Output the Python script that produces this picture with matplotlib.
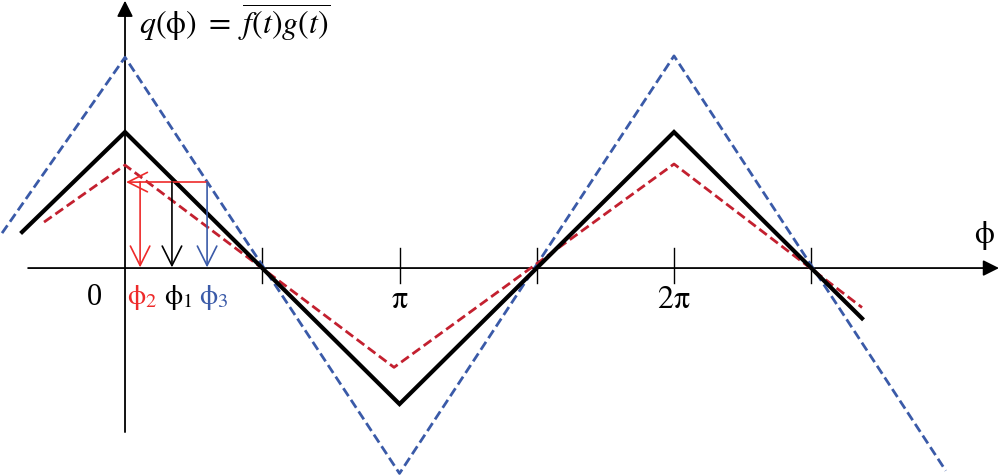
import matplotlib.pyplot as plt

plt.rcParams['font.family'] = ['Liberation Serif', 'DejaVu Serif']
plt.rcParams['mathtext.fontset'] = 'stix'

# 相位单位为 π，幅值以黑线峰值为 1
black_x = [-0.375, 0, 1, 2, 2.685]
black_y = [0.265, 1.0, -1.0, 1.0, -0.37]
blue_x = [-0.448, 0, 1, 2, 2.99]
blue_y = [0.257, 1.55, -1.51, 1.56, -1.49]
red_x = [-0.295, 0, 0.98, 2, 2.685]
red_y = [0.338, 0.757, -0.73, 0.765, -0.29]

tick_pos = [0.5, 1, 1.5, 2, 2.5]
tick_labels = [(1, r'$\mathrm{\pi}$'), (2, r'$2\mathrm{\pi}$')]

level = 0.632                 # 水平读数线
phi_pos = [0.055, 0.171, 0.299]   # φ2, φ1, φ3
phi_names = [r'$\mathrm{\phi}_2$', r'$\mathrm{\phi}_1$', r'$\mathrm{\phi}_3$']
phi_colors = ['#ee2a2a', 'black', '#3a5aa8']

BLUE = '#3a5aa8'
RED = '#c3202f'

fig = plt.figure(figsize=(10, 4.76), dpi=100)
ax = fig.add_axes([0, 0, 1, 1])
ax.set_xlim(-0.4554, 3.1876)
ax.set_ylim(-1.529, 1.971)
ax.axis('off')

# 坐标轴（带箭头）
ax.annotate('', xy=(3.184, 0), xytext=(-0.353, 0), annotation_clip=False,
            arrowprops=dict(arrowstyle='-|>', color='black', lw=1.3,
                            mutation_scale=24, shrinkA=0, shrinkB=0))
ax.annotate('', xy=(0, 1.966), xytext=(0, -1.206), annotation_clip=False,
            arrowprops=dict(arrowstyle='-|>', color='black', lw=1.3,
                            mutation_scale=24, shrinkA=0, shrinkB=0))
for t in tick_pos:
    ax.plot([t, t], [-0.11, 0.15], color='black', lw=1.0)

# 三条曲线
ax.plot(blue_x, blue_y, color=BLUE, lw=2.0, dashes=(3.4, 1.6), zorder=3)
ax.plot(red_x, red_y, color=RED, lw=2.0, dashes=(3.4, 1.6), zorder=3)
ax.plot(black_x, black_y, color='black', lw=3.0, zorder=4,
        solid_joinstyle='miter')

# 水平线与向下箭头
thin = dict(arrowstyle='->, head_length=0.5, head_width=0.25', lw=1.2,
            mutation_scale=28, shrinkA=0, shrinkB=0)
ax.plot([phi_pos[0], phi_pos[2]], [level, level], color='#ee2a2a', lw=1.2, zorder=5)
ax.annotate('', xy=(0.004, level), xytext=(phi_pos[0], level),
            arrowprops=dict(color='#ee2a2a', **thin), zorder=5)
for xp, c in zip(phi_pos, phi_colors):
    ax.annotate('', xy=(xp, 0.005), xytext=(xp, level),
                arrowprops=dict(color=c, **thin), zorder=5)

# 文字
ax.text(-0.11, -0.22, '0', fontsize=22, ha='center', va='center')
for xp, name, c in zip([0.064, 0.195, 0.322], phi_names, phi_colors):
    ax.text(xp, -0.22, name, fontsize=21, ha='center', va='center', color=c)
for t, lab in tick_labels:
    ax.text(t, -0.24, lab, fontsize=23, ha='center', va='center')
ax.text(3.13, 0.24, r'$\mathrm{\phi}$', fontsize=23, ha='center', va='center')
ax.text(0.052, 1.80, r'$q(\mathrm{\phi})\ =\ \overline{f(t)g(t)}$', fontsize=23,
        ha='left', va='center')

plt.savefig('out.png', dpi=100)
plt.close()
